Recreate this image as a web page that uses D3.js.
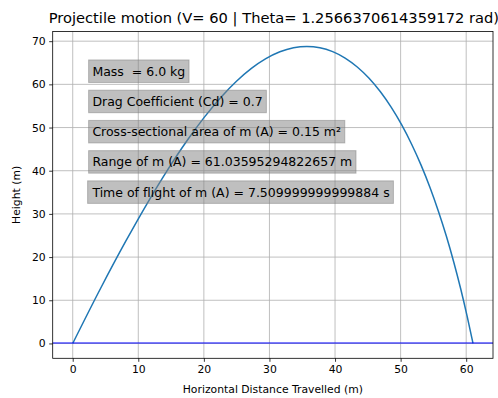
<!DOCTYPE html>
<html><head><meta charset="utf-8">
<script src="https://cdn.jsdelivr.net/npm/d3@7"></script>
<style>body{margin:0;background:#fff}svg{display:block;font-family:"DejaVu Sans",sans-serif;font-variant-ligatures:none;font-feature-settings:"liga" 0,"clig" 0}</style>
</head><body><svg id="c" width="498" height="398"></svg>
<script>
// ---- data ----
const titleText = "Projectile motion (V= 60 | Theta= 1.2566370614359172 rad)";
const xLabel = "Horizontal Distance Travelled (m)";
const yLabel = "Height (m)";
const xTicks = [0, 10, 20, 30, 40, 50, 60];
const yTicks = [0, 10, 20, 30, 40, 50, 60, 70];
const trajX = [0, 4.30, 8.09, 11.48, 14.57, 17.42, 20.08, 22.58, 24.97, 27.25, 29.45, 31.59, 33.67, 35.70, 37.69, 39.64, 41.54, 43.39, 45.19, 46.92, 48.58, 50.17, 51.68, 53.12, 54.48, 55.76, 56.97, 58.10, 59.16, 60.15, 61.04];
const trajY = [0, 12.90, 23.67, 32.75, 40.44, 46.94, 52.41, 56.97, 60.71, 63.69, 65.95, 67.54, 68.48, 68.79, 68.49, 67.57, 66.08, 64.01, 61.40, 58.27, 54.66, 50.60, 46.14, 41.30, 36.12, 30.63, 24.87, 18.87, 12.66, 6.26, 0];
const infoLabels = [
  "Mass  = 6.0 kg",
  "Drag Coefficient (Cd) = 0.7",
  "Cross-sectional area of m (A) = 0.15 m²",
  "Range of m (A) = 61.03595294822657 m",
  "Time of flight of m (A) = 7.509999999999884 s"
];
const infoX = [3, 3, 3, 3, 3];
const infoY = [62, 55, 48, 41, 34];
const groundY = 0;

// ---- layout ----
const L = 52.7, R = 493, T = 31.5, B = 358.3;
const svg = d3.select("#c");
const x = d3.scaleLinear().domain([-3.052, 64.088]).range([L, R]);
const y = d3.scaleLinear().domain([-3.44, 72.24]).range([B, T]);

// grid
const g = svg.append("g");
g.selectAll(".gx").data(xTicks).join("line")
  .attr("x1", d => x(d)).attr("x2", d => x(d)).attr("y1", T).attr("y2", B)
  .attr("stroke", "#b0b0b0").attr("stroke-width", 0.8);
g.selectAll(".gy").data(yTicks).join("line")
  .attr("y1", d => y(d)).attr("y2", d => y(d)).attr("x1", L).attr("x2", R)
  .attr("stroke", "#b0b0b0").attr("stroke-width", 0.8);

// trajectory
const pts = trajX.map((v, i) => [v, trajY[i]]);
svg.append("path").datum(pts)
  .attr("d", d3.line().x(d => x(d[0])).y(d => y(d[1])).curve(d3.curveMonotoneX))
  .attr("fill", "none").attr("stroke", "#1f77b4").attr("stroke-width", 1.5);

// ground line
const gy = Math.round(y(groundY));
svg.append("line").attr("x1", L).attr("x2", R).attr("y1", gy).attr("y2", gy)
  .attr("stroke", "#0000ff").attr("stroke-width", 1.2);

// info boxes
const boxFont = 12.5, pad = 0.3 * boxFont;
infoLabels.forEach((t, i) => {
  const grp = svg.append("g");
  const rect = grp.append("rect");
  const tx = grp.append("text").attr("x", x(infoX[i])).attr("y", y(infoY[i]))
    .attr("font-size", boxFont).attr("fill", "#000")
    .attr("xml:space", "preserve").style("white-space", "pre").text(t);
  const bb = tx.node().getBBox();
  rect.attr("x", bb.x - pad).attr("y", bb.y - pad)
    .attr("width", bb.width + 2 * pad).attr("height", bb.height + 2 * pad)
    .attr("fill", "grey").attr("fill-opacity", 0.5)
    .attr("stroke", "grey").attr("stroke-opacity", 0.5).attr("stroke-width", 1);
});

// axes
const xAxis = d3.axisBottom(x).tickValues(xTicks).tickSize(3.5).tickPadding(3.5).tickFormat(d3.format("d"));
const yAxis = d3.axisLeft(y).tickValues(yTicks).tickSize(3.5).tickPadding(3.5).tickFormat(d3.format("d"));
const xa = svg.append("g").attr("transform", `translate(0,${B})`).call(xAxis);
const ya = svg.append("g").attr("transform", `translate(${L},0)`).call(yAxis);
[xa, ya].forEach(a => {
  a.select(".domain").remove();
  a.selectAll("line").attr("stroke", "#000").attr("stroke-width", 0.8);
  a.selectAll("text").attr("font-size", 10.8).attr("fill", "#000").attr("font-family", "DejaVu Sans");
});

// spines
svg.append("rect").attr("x", L).attr("y", T).attr("width", R - L).attr("height", B - T)
  .attr("fill", "none").attr("stroke", "#000").attr("stroke-width", 0.8);

// labels
const title = svg.append("text").attr("x", (L + R) / 2 + 1).attr("y", 22.5).attr("text-anchor", "middle")
  .attr("font-size", 13).attr("fill", "#000").text(titleText);
const tw = title.node().getComputedTextLength();
title.attr("font-size", 13 * 451 / tw);
svg.append("text").attr("x", (L + R) / 2).attr("y", 393).attr("text-anchor", "middle")
  .attr("font-size", 10.8).attr("fill", "#000").text(xLabel);
svg.append("text").attr("transform", `translate(19.5,${(T + B) / 2}) rotate(-90)`).attr("text-anchor", "middle")
  .attr("font-size", 10.8).attr("fill", "#000").text(yLabel);
</script></body></html>
